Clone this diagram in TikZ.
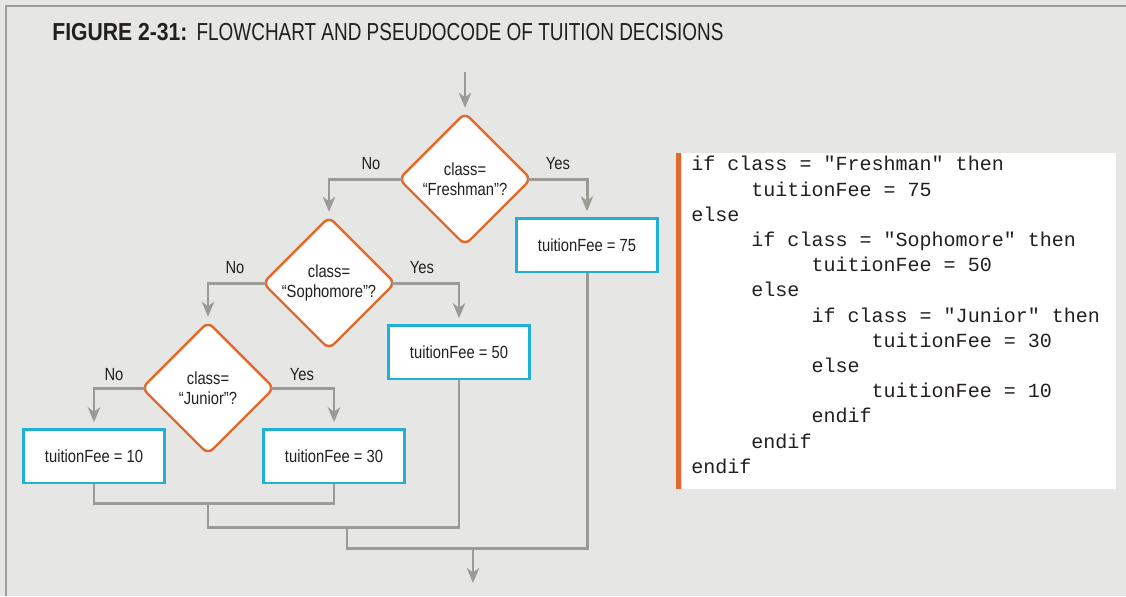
\documentclass[tikz,border=0pt]{standalone}
\usepackage{fontspec}
\setmainfont{Liberation Sans}
\setmonofont{Liberation Mono}
\newfontfamily\condfont{Liberation Sans}[FakeStretch=0.84]
\newfontfamily\headfont{Liberation Sans}[FakeStretch=0.86]
\newfontfamily\titlefont{Liberation Sans}[FakeStretch=0.77]
\usetikzlibrary{arrows.meta, calc, positioning, shapes.geometric}
\definecolor{paper}{RGB}{230,230,228}
\definecolor{frame}{RGB}{157,157,151}
\definecolor{flowgray}{RGB}{155,154,148}
\definecolor{dorange}{RGB}{226,105,44}
\definecolor{cyanbox}{RGB}{31,176,216}
\definecolor{ink}{RGB}{35,31,32}
\newcommand{\ind}{\hspace*{3em}}

\begin{document}
\begin{tikzpicture}[x=0.02cm, y=-0.02cm,
    decision/.style={diamond, draw=dorange, fill=white, line width=1.4pt,
      rounded corners=4pt, minimum width=2.64cm, minimum height=2.64cm,
      inner sep=0pt, outer sep=0pt, align=center, text=ink,
      font=\condfont\fontsize{10}{11.6}\selectfont},
    action/.style={rectangle, draw=cyanbox, fill=white, line width=1.7pt,
      minimum width=2.82cm, minimum height=1.08cm, text=ink,
      font=\condfont\fontsize{10}{11.6}\selectfont},
    flow/.style={draw=flowgray, line width=1.7pt},
    arr/.style={flow, -{Stealth[length=8.5pt, width=7pt, inset=2.5pt]}, shorten >=3pt},
    branch/.style={arr, shorten <=-1.5pt},
    lbl/.style={text=ink, inner sep=0pt, font=\condfont\fontsize{10}{11.6}\selectfont}]

  % ---------- page ----------
  \fill[paper] (0,0) rectangle (1126,596);
  \useasboundingbox (0,0) rectangle (1126,596);
  \draw[frame, line width=1.2pt] (6,596) -- (6,6) -- (1126,6);
  \node[anchor=base west, inner sep=0pt, text=ink, font=\fontsize{14}{16}\selectfont] (title) at (52,40)
    {{\headfont\bfseries FIGURE 2-31:} {\titlefont FLOWCHART AND PSEUDOCODE OF TUITION DECISIONS}};

  % ---------- decisions and actions ----------
  \node[decision] (fresh) at (465,179) {class=\\“Freshman”?};
  \node[decision] (soph)  at (329,283) {class=\\“Sophomore”?};
  \node[decision] (jun)   at (208,388) {class=\\“Junior”?};
  \node[action] (fee75) at (587,245) {tuitionFee = 75};
  \node[action] (fee50) at (459,352) {tuitionFee = 50};
  \node[action] (fee10) at (94,456)  {tuitionFee = 10};
  \node[action] (fee30) at (334,456) {tuitionFee = 30};

  % ---------- branches ----------
  \coordinate (entry) at (465,72);
  \draw[arr] (entry) -- (fresh.north);
  \draw[branch] (fresh.west) -| (soph.north);
  \draw[branch] (fresh.east) -| (fee75.north);
  \draw[branch] (soph.west) -| (jun.north);
  \draw[branch] (soph.east) -| (fee50.north);
  \draw[branch] (jun.west) -| (fee10.north);
  \draw[branch] (jun.east) -| (fee30.north);
  \node[lbl] (no1)  at ($(fresh.west)+(-28,-15)$) {No};
  \node[lbl] (yes1) at ($(fresh.east)+(27,-15)$)  {Yes};
  \node[lbl] (no2)  at ($(soph.west)+(-28,-15)$)  {No};
  \node[lbl] (yes2) at ($(soph.east)+(27,-15)$)   {Yes};
  \node[lbl] (no3)  at ($(jun.west)+(-28,-13)$)   {No};
  \node[lbl] (yes3) at ($(jun.east)+(28,-13)$)    {Yes};

  % ---------- merging ----------
  \coordinate (join1) at (208,503);
  \coordinate (join2) at (347,527);
  \coordinate (join3) at (473,548);
  \coordinate (exit)  at (473,583);
  \draw[flow] (fee10.south) |- (join1) -| (fee30.south);
  \draw[flow] (join1) |- (join2) -| (fee50.south);
  \draw[flow] (join2) |- (join3) -| (fee75.south);
  \draw[arr, shorten >=0pt] (join3) -- (exit);

  % ---------- pseudocode ----------
  \fill[white] (682,153) rectangle (1116,489);
  \fill[dorange] (676,153) rectangle (681,489);
  \node[anchor=north west, inner sep=0pt, align=left, text=ink,
        font=\ttfamily\fontsize{11.4}{14.35}\selectfont] (code) at (691,156)
    {if class = "Freshman" then\\
     \ind tuitionFee = 75\\
     else\\
     \ind if class = "Sophomore" then\\
     \ind\ind tuitionFee = 50\\
     \ind else\\
     \ind\ind if class = "Junior" then\\
     \ind\ind\ind tuitionFee = 30\\
     \ind\ind else\\
     \ind\ind\ind tuitionFee = 10\\
     \ind\ind endif\\
     \ind endif\\
     endif};
\end{tikzpicture}
\end{document}
